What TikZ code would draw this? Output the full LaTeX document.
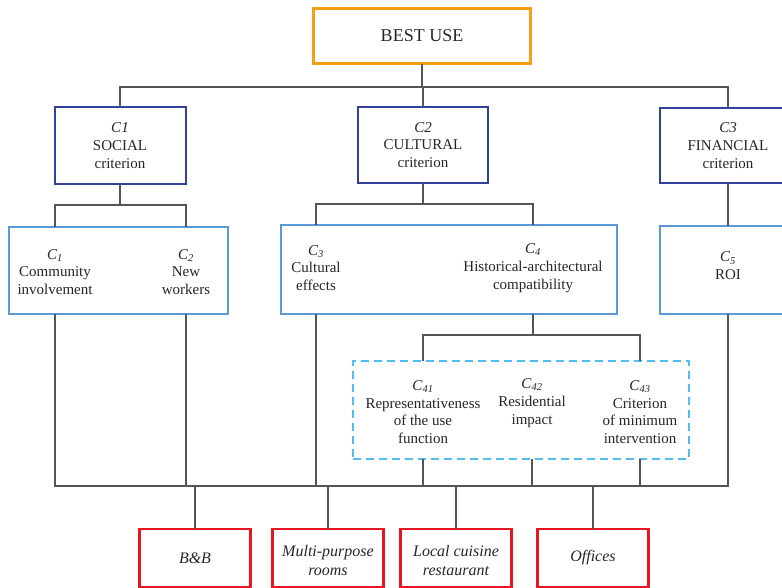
\documentclass[tikz,border=0pt]{standalone}
\usepackage{fontspec}
\setmainfont{Liberation Serif}
\definecolor{ink}{RGB}{38,38,38}
\definecolor{wire}{RGB}{85,85,85}
\definecolor{goal}{RGB}{245,158,20}
\definecolor{crit}{RGB}{50,64,160}
\definecolor{sub}{RGB}{90,155,215}
\definecolor{grp}{RGB}{80,190,240}
\definecolor{alt}{RGB}{232,22,32}
\newcommand\critsub[1]{\textit{C}\textsubscript{\textit{#1}}}
\begin{document}
\begin{tikzpicture}[x=1pt,y=-1pt,
  every node/.style={inner sep=0pt, outer sep=0pt, text=ink, align=center,
    font=\fontsize{15}{17.8}\selectfont},
  link/.style={draw=wire, line width=1.2pt},
  goalbox/.style={draw=goal, line width=2.5pt, minimum width=217pt, minimum height=55pt,
    font=\fontsize{18}{21}\selectfont},
  critbox/.style={draw=crit, line width=2pt},
  subbox/.style={draw=sub, line width=2pt},
  groupbox/.style={draw=grp, line width=2pt, dash pattern=on 8pt off 5pt},
  altbox/.style={draw=alt, line width=2.5pt, minimum width=111pt, minimum height=58pt},
  alttext/.style={font=\fontsize{16}{19}\selectfont\itshape},
]
\useasboundingbox (0,0) rectangle (782,587);
\clip (0,0) rectangle (782,587);

% goal
\node[goalbox] (best) at (422,36) {BEST USE};

% criteria
\node[critbox, minimum width=131pt, minimum height=77pt] (c1) at (120,145.5) {\textit{C1}\\SOCIAL\\criterion};
\node[critbox, minimum width=130pt, minimum height=76pt] (c2) at (423,145) {\textit{C2}\\CULTURAL\\criterion};
\node[critbox, minimum width=136pt, minimum height=75pt] (c3) at (728,145.5) {\textit{C3}\\FINANCIAL\\criterion};

% sub-criteria frames
\node[subbox, minimum width=219pt, minimum height=87pt] (s12) at (118.5,270.5) {};
\node[subbox, minimum width=336pt, minimum height=89pt] (s34) at (449,269.5) {};
\node[subbox, minimum width=136pt, minimum height=88pt] (s5) at (728,270) {};

% sub-criteria
\node (k1) at (55,272) {\critsub{1}\\Community\\involvement};
\node (k2) at (186,272) {\critsub{2}\\New\\workers};
\node (k3) at (316,268) {\critsub{3}\\Cultural\\effects};
\node (k4) at (533,268) {\critsub{4}\\Historical-architectural\\compatibility};
\node (k5) at (728,266) {\critsub{5}\\ROI};

% second-level sub-criteria of C4
\node[groupbox, minimum width=336pt, minimum height=98pt] (d4) at (521,410) {};
\node (k41) at (423,412) {\critsub{41}\\Representativeness\\of the use\\function};
\node (k42) at (532,403) {\critsub{42}\\Residential\\impact};
\node (k43) at (640,412) {\critsub{43}\\Criterion\\of minimum\\intervention};

% alternatives
\node[altbox] (a1) at (195,558) {};
\node[altbox] (a2) at (328,558) {};
\node[altbox] (a3) at (456,558) {};
\node[altbox] (a4) at (593,558) {};
\node[alttext] (t1) at (a1) {B\&B};
\node[alttext, yshift=-3pt] (t2) at (a2) {Multi-purpose\\rooms};
\node[alttext, yshift=-3pt] (t3) at (a3) {Local cuisine\\restaurant};
\node[alttext] (t4) at (a4) {Offices};

% goal -> criteria
\coordinate (busA) at (0,87);
\draw[link] (best.south) -- (best.south |- busA);
\draw[link] (c1.north) |- (busA -| c3.north) -- (c3.north);
\draw[link] (c2.north) -- (c2.north |- busA);

% criteria -> sub-criteria
\coordinate (busB) at (0,205);
\draw[link] (c1.south) -- (c1.south |- busB);
\draw[link] (k1 |- s12.north) |- (busB -| k2) -- (k2 |- s12.north);
\coordinate (busC) at (0,204);
\draw[link] (c2.south) -- (c2.south |- busC);
\draw[link] (k3 |- s34.north) |- (busC -| k4) -- (k4 |- s34.north);
\draw[link] (c3.south) -- (s5.north);

% C4 -> C41..C43
\coordinate (busD) at (0,335);
\draw[link] (k4 |- s34.south) -- (k4 |- busD);
\draw[link] (k41 |- d4.north) |- (busD -| k43) -- (k43 |- d4.north);

% leaves -> alternatives
\coordinate (busE) at (0,486);
\draw[link] (k1 |- s12.south) |- (busE -| s5.south) -- (s5.south);
\draw[link] (k2 |- s12.south) -- (k2 |- busE);
\draw[link] (k3 |- s34.south) -- (k3 |- busE);
\foreach \k in {k41,k42,k43} \draw[link] (\k |- d4.south) -- (\k |- busE);
\foreach \a in {a1,a2,a3,a4} \draw[link] (\a.north) -- (\a.north |- busE);
\end{tikzpicture}
\end{document}
